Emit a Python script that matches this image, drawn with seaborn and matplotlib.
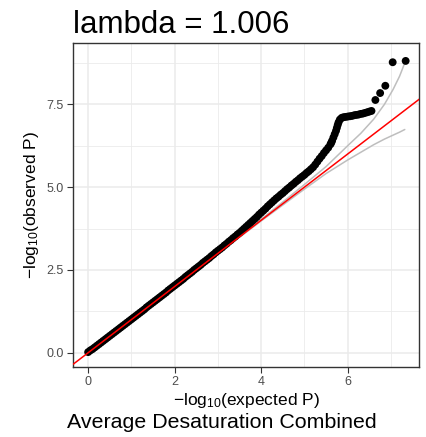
import matplotlib
matplotlib.use("Agg")
import matplotlib.pyplot as plt
import seaborn as sns
import pandas as pd

# Q-Q plot of association p-values (-log10 scale)
expected = [
    0.00, 0.05, 0.10, 0.15, 0.20, 0.25, 0.30, 0.35, 0.40, 0.45,
    0.50, 0.55, 0.60, 0.65, 0.70, 0.75, 0.80, 0.85, 0.90, 0.95,
    1.00, 1.05, 1.10, 1.15, 1.20, 1.25, 1.30, 1.35, 1.40, 1.45,
    1.50, 1.55, 1.60, 1.65, 1.70, 1.75, 1.80, 1.85, 1.90, 1.95,
    2.00, 2.05, 2.10, 2.15, 2.20, 2.25, 2.30, 2.35, 2.40, 2.45,
    2.50, 2.55, 2.60, 2.65, 2.70, 2.75, 2.80, 2.85, 2.90, 2.95,
    3.00, 3.05, 3.10, 3.15, 3.20, 3.25, 3.30, 3.35, 3.40, 3.45,
    3.50, 3.55, 3.60, 3.65, 3.70, 3.75, 3.80, 3.85, 3.90, 3.95,
    4.00, 4.05, 4.10, 4.15, 4.20, 4.25, 4.30, 4.35, 4.40, 4.45,
    4.50, 4.55, 4.60, 4.65, 4.70, 4.75, 4.80, 4.85, 4.90, 4.95,
    5.00, 5.05, 5.10, 5.15, 5.20, 5.25, 5.30, 5.35, 5.40, 5.45,
    5.50, 5.55, 5.60, 5.62, 5.64, 5.67, 5.70, 5.73, 5.75, 5.77,
    5.79, 5.82, 5.86, 5.90, 5.95, 6.00, 6.05, 6.10, 6.15, 6.20,
    6.25, 6.30, 6.35, 6.40, 6.45, 6.50, 6.55,
    6.64, 6.75, 6.87, 7.04, 7.34,
]
observed = [
    0.02, 0.07, 0.11, 0.16, 0.21, 0.26, 0.31, 0.36, 0.41, 0.46,
    0.51, 0.56, 0.61, 0.66, 0.71, 0.76, 0.81, 0.86, 0.91, 0.96,
    1.01, 1.06, 1.11, 1.16, 1.21, 1.26, 1.31, 1.37, 1.42, 1.47,
    1.52, 1.57, 1.62, 1.67, 1.72, 1.77, 1.82, 1.88, 1.93, 1.98,
    2.03, 2.08, 2.13, 2.18, 2.23, 2.29, 2.34, 2.39, 2.44, 2.50,
    2.55, 2.60, 2.65, 2.71, 2.76, 2.81, 2.86, 2.92, 2.97, 3.03,
    3.08, 3.13, 3.18, 3.24, 3.29, 3.35, 3.40, 3.46, 3.51, 3.57,
    3.62, 3.68, 3.74, 3.80, 3.86, 3.92, 3.98, 4.04, 4.10, 4.17,
    4.23, 4.29, 4.35, 4.42, 4.48, 4.54, 4.60, 4.66, 4.71, 4.77,
    4.82, 4.88, 4.94, 4.99, 5.05, 5.10, 5.16, 5.21, 5.27, 5.32,
    5.37, 5.43, 5.48, 5.54, 5.60, 5.68, 5.77, 5.86, 5.94, 6.03,
    6.11, 6.19, 6.29, 6.34, 6.40, 6.50, 6.60, 6.70, 6.79, 6.88,
    6.96, 7.04, 7.09, 7.11, 7.12, 7.13, 7.14, 7.15, 7.17, 7.18,
    7.19, 7.21, 7.22, 7.24, 7.26, 7.28, 7.30,
    7.63, 7.84, 8.06, 8.77, 8.81,
]

# 95% confidence band of the expected order statistics
ci_x = [0.0, 1.0, 2.0, 3.0, 4.0, 4.5, 5.0, 5.5, 6.0, 6.3, 6.6, 6.85, 7.05, 7.2, 7.32]
ci_upper = [0.0, 1.0, 2.0, 3.01, 4.03, 4.55, 5.08, 5.62, 6.25, 6.62, 7.05, 7.5, 7.95, 8.35, 8.75]
ci_lower = [0.0, 1.0, 2.0, 2.99, 3.98, 4.46, 4.94, 5.41, 5.82, 6.05, 6.28, 6.45, 6.57, 6.66, 6.74]

x_ticks = [0, 2, 4, 6]
x_tick_labels = ["0", "2", "4", "6"]
y_ticks = [0, 2.5, 5, 7.5]
y_tick_labels = ["0.0", "2.5", "5.0", "7.5"]

title_text = "lambda = 1.006"
caption_text = "Average Desaturation Combined"

sns.set_theme(style="white")
plt.rcParams["font.family"] = ["Liberation Sans", "DejaVu Sans"]

points = pd.DataFrame({"expected": expected, "observed": observed})
band = pd.DataFrame({"x": ci_x, "upper": ci_upper, "lower": ci_lower})

fig = plt.figure(figsize=(4.27, 4.37), dpi=100)
W, H = 427, 437
ax = fig.add_axes([73 / W, 1 - 367 / H, (419.5 - 73) / W, (367 - 42.7) / H])
ax.set_facecolor("white")

sns.lineplot(data=band, x="x", y="upper", ax=ax, color="#BEBEBE", lw=1.1, sort=False, zorder=2)
sns.lineplot(data=band, x="x", y="lower", ax=ax, color="#BEBEBE", lw=1.1, sort=False, zorder=2)
sns.scatterplot(data=points, x="expected", y="observed", ax=ax, color="black",
                s=32, linewidth=0, edgecolor="none", zorder=3)
ax.axline((0, 0), slope=1, color="#FF0000", lw=1.1, zorder=4)

ax.set_xlim(-0.35, 7.66)
ax.set_ylim(-0.43, 9.36)

ax.set_xticks(x_ticks)
ax.set_xticklabels(x_tick_labels)
ax.set_yticks(y_ticks)
ax.set_yticklabels(y_tick_labels)
ax.set_xticks([1, 3, 5, 7], minor=True)
ax.set_yticks([1.25, 3.75, 6.25, 8.75], minor=True)

ax.grid(which="major", color="#EBEBEB", lw=1.1, zorder=0)
ax.grid(which="minor", color="#EBEBEB", lw=0.6, zorder=0)
ax.set_axisbelow(True)

for side in ax.spines.values():
    side.set_visible(True)
    side.set_color("#333333")
    side.set_linewidth(1.0)

ax.tick_params(which="major", direction="out", length=4, width=0.8, color="#333333",
               labelsize=9, labelcolor="#4D4D4D", pad=2.5, bottom=True, left=True)
ax.tick_params(which="minor", length=0)

ax.set_xlabel(r"$\mathregular{-log_{10}}$(expected P)", fontsize=12.5, color="black", labelpad=2)
ax.set_ylabel(r"$\mathregular{-log_{10}}$(observed P)", fontsize=12.5, color="black", labelpad=4)

fig.text(73 / W, 1 - 33 / H, title_text, fontsize=22.5, ha="left", va="baseline", color="black")
fig.text(221.7 / W, 1 - 428.3 / H, caption_text, fontsize=15.4, ha="center", va="baseline", color="black")

fig.savefig("out.png", dpi=100)
